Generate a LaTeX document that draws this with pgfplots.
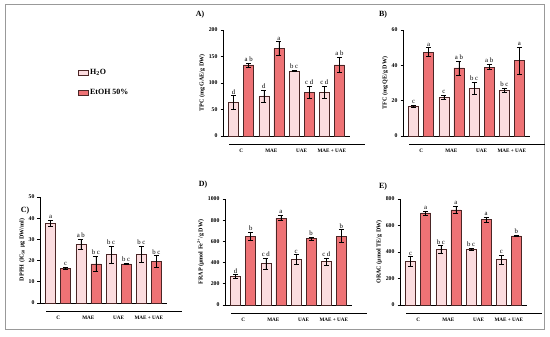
\documentclass[border=0pt]{standalone}
\usepackage{pgfplots}
\pgfplotsset{compat=1.18}
\usepackage{pgfplotstable}
\usepackage{fontspec}
\setmainfont{Liberation Serif}

\definecolor{hcol}{HTML}{FBDCDF}
\definecolor{ecol}{HTML}{EE7275}
\definecolor{edge}{HTML}{4A2626}

\pgfplotstableread[col sep=comma]{
g,h,he,hl,t,te,tl
0,63,13,d,134,4,a b
1,75.5,11,d,165,13,a
2,122.6,1,b c,83,11,c d
3,83,11,c d,134,14,a b
}\tabA
\pgfplotstableread[col sep=comma]{
g,h,he,hl,t,te,tl
0,17,0.6,c,47.5,2.5,a
1,22,1,c,38.5,4,a b
2,27,3.5,b c,39,1.5,a b
3,26,1,b c,42.6,7.5,a
}\tabB
\pgfplotstableread[col sep=comma]{
g,h,he,hl,t,te,tl
0,37.5,1.5,a,16.5,0.4,c
1,27.7,2.5,a b,18.5,3.5,b c
2,22.8,4,b c,18.4,0.3,b c
3,23,3.8,b c,19.6,2.7,b c
}\tabC
\pgfplotstableread[col sep=comma]{
g,h,he,hl,t,te,tl
0,270,15,d,650,35,b
1,390,50,c d,820,25,a
2,430,45,c,626,15,b
3,410,35,c d,650,60,b
}\tabD
\pgfplotstableread[col sep=comma]{
g,h,he,hl,t,te,tl
0,330,35,c,695,15,a
1,418,30,b c,718,28,a
2,420,10,b c,645,20,a
3,342,35,c,521,3,b
}\tabE

\pgfplotsset{
 panel/.style={
  scale only axis, width=127bp, height=106bp,
  anchor=south west,
  axis x line*=bottom, axis y line*=left,
  xmin=-0.6, xmax=3.6, ymin=0,
  xtick={0,1,2,3}, xticklabels={C,MAE,UAE,MAE + UAE},
  major x tick style={draw=none},
  tick align=outside, major tick length=2.5bp,
  axis line style={line width=0.9bp},
  every tick/.style={line width=0.8bp, black},
  xticklabel style={font=\fontsize{5.2}{6}\selectfont\bfseries, yshift=-7bp},
  yticklabel style={font=\fontsize{5.8}{6}\selectfont\bfseries, xshift=0.5bp},
  ylabel style={font=\fontsize{6.1}{7}\selectfont\bfseries, yshift=-3bp},
  /pgf/number format/assume math mode=true,
  /pgf/number format/set thousands separator={},
  ybar, bar width=10bp, bar shift=0pt,
  clip=false,
  nodes near coords, point meta=explicit symbolic,
  every node near coord/.style={font=\fontsize{6.8}{7}\selectfont, anchor=south, yshift=\eshift bp, inner sep=1.3bp},
  error bars/y dir=both, error bars/y explicit,
  error bars/error bar style={black, line width=0.6bp},
  error bars/error mark options={rotate=90, mark size=2.5bp, black, line width=0.6bp},
 },
 hbar/.style={fill=hcol, draw=edge, line width=0.5bp},
 ebar/.style={fill=ecol, draw=edge, line width=0.5bp},
}

\newcommand{\underlines}{%
  \pgfplotsinvokeforeach{0,1,2}{\draw[line width=0.6bp, black] (axis cs:##1,0) ++(-12bp,-8bp) -- ++(24bp,0);}
  \draw[line width=0.6bp, black] (axis cs:3,0) ++(-15bp,-8bp) -- ++(30bp,0);
}

\begin{document}
\begin{tikzpicture}
\useasboundingbox (0,0) rectangle (550bp,337bp);
\draw[gray!80, line width=1bp] (5bp,332bp) rectangle (544bp,7bp);

% A
\begin{axis}[panel, at={(223bp,201bp)}, ymax=200, ytick={0,50,100,150,200},
  ylabel={TPC (mg GAE/g DW)},
  legend style={at={(rel axis cs:-1.17,0.67)}, anchor=north west, draw=none, fill=none,
    font=\fontsize{8}{9}\selectfont\bfseries, row sep=9bp},
  legend image code/.code={\draw[#1] (0bp,-2.5bp) rectangle (10bp,2.5bp);},
  legend cell align=left]
\addplot[hbar, visualization depends on={\thisrow{he}*0.53 \as \eshift}]
  table[x expr=\thisrow{g}-0.25, y=h, y error=he, meta=hl] {\tabA};
\addplot[ebar, visualization depends on={\thisrow{te}*0.53 \as \eshift}]
  table[x expr=\thisrow{g}+0.25, y=t, y error=te, meta=tl] {\tabA};
\legend{H\textsubscript{2}O, EtOH 50\%}
\underlines
\end{axis}

% B
\begin{axis}[panel, at={(403bp,201bp)}, ymax=60, ytick={0,20,40,60},
  ylabel={TFC (mg QE/g DW)}]
\addplot[hbar, visualization depends on={\thisrow{he}*1.767 \as \eshift}]
  table[x expr=\thisrow{g}-0.25, y=h, y error=he, meta=hl] {\tabB};
\addplot[ebar, visualization depends on={\thisrow{te}*1.767 \as \eshift}]
  table[x expr=\thisrow{g}+0.25, y=t, y error=te, meta=tl] {\tabB};
\underlines
\end{axis}

% C
\begin{axis}[panel, at={(40bp,34bp)}, ymax=50, ytick={0,10,20,30,40,50},
  ylabel={DPPH (IC\textsubscript{50} µg DW/ml)}]
\addplot[hbar, visualization depends on={\thisrow{he}*2.12 \as \eshift}]
  table[x expr=\thisrow{g}-0.25, y=h, y error=he, meta=hl] {\tabC};
\addplot[ebar, visualization depends on={\thisrow{te}*2.12 \as \eshift}]
  table[x expr=\thisrow{g}+0.25, y=t, y error=te, meta=tl] {\tabC};
\underlines
\end{axis}

% D
\begin{axis}[panel, at={(225bp,32bp)}, ymax=1000, ytick={0,200,400,600,800,1000},
  ylabel={FRAP (µmol Fe\textsuperscript{2+}/g DW)}]
\addplot[hbar, visualization depends on={\thisrow{he}*0.106 \as \eshift}]
  table[x expr=\thisrow{g}-0.25, y=h, y error=he, meta=hl] {\tabD};
\addplot[ebar, visualization depends on={\thisrow{te}*0.106 \as \eshift}]
  table[x expr=\thisrow{g}+0.25, y=t, y error=te, meta=tl] {\tabD};
\underlines
\end{axis}

% E
\begin{axis}[panel, at={(400bp,32bp)}, ymax=800, ytick={0,200,400,600,800},
  ylabel={ORAC (µmol TE/g DW)}]
\addplot[hbar, visualization depends on={\thisrow{he}*0.1325 \as \eshift}]
  table[x expr=\thisrow{g}-0.25, y=h, y error=he, meta=hl] {\tabE};
\addplot[ebar, visualization depends on={\thisrow{te}*0.1325 \as \eshift}]
  table[x expr=\thisrow{g}+0.25, y=t, y error=te, meta=tl] {\tabE};
\underlines
\end{axis}

\node[font=\fontsize{8}{9}\selectfont\bfseries] at (200bp,322bp) {A)};
\node[font=\fontsize{8}{9}\selectfont\bfseries] at (383bp,322bp) {B)};
\node[font=\fontsize{8}{9}\selectfont\bfseries] at (25bp,126bp) {C)};
\node[font=\fontsize{8}{9}\selectfont\bfseries] at (203bp,152bp) {D)};
\node[font=\fontsize{8}{9}\selectfont\bfseries] at (383bp,150bp) {E)};
\end{tikzpicture}
\end{document}
